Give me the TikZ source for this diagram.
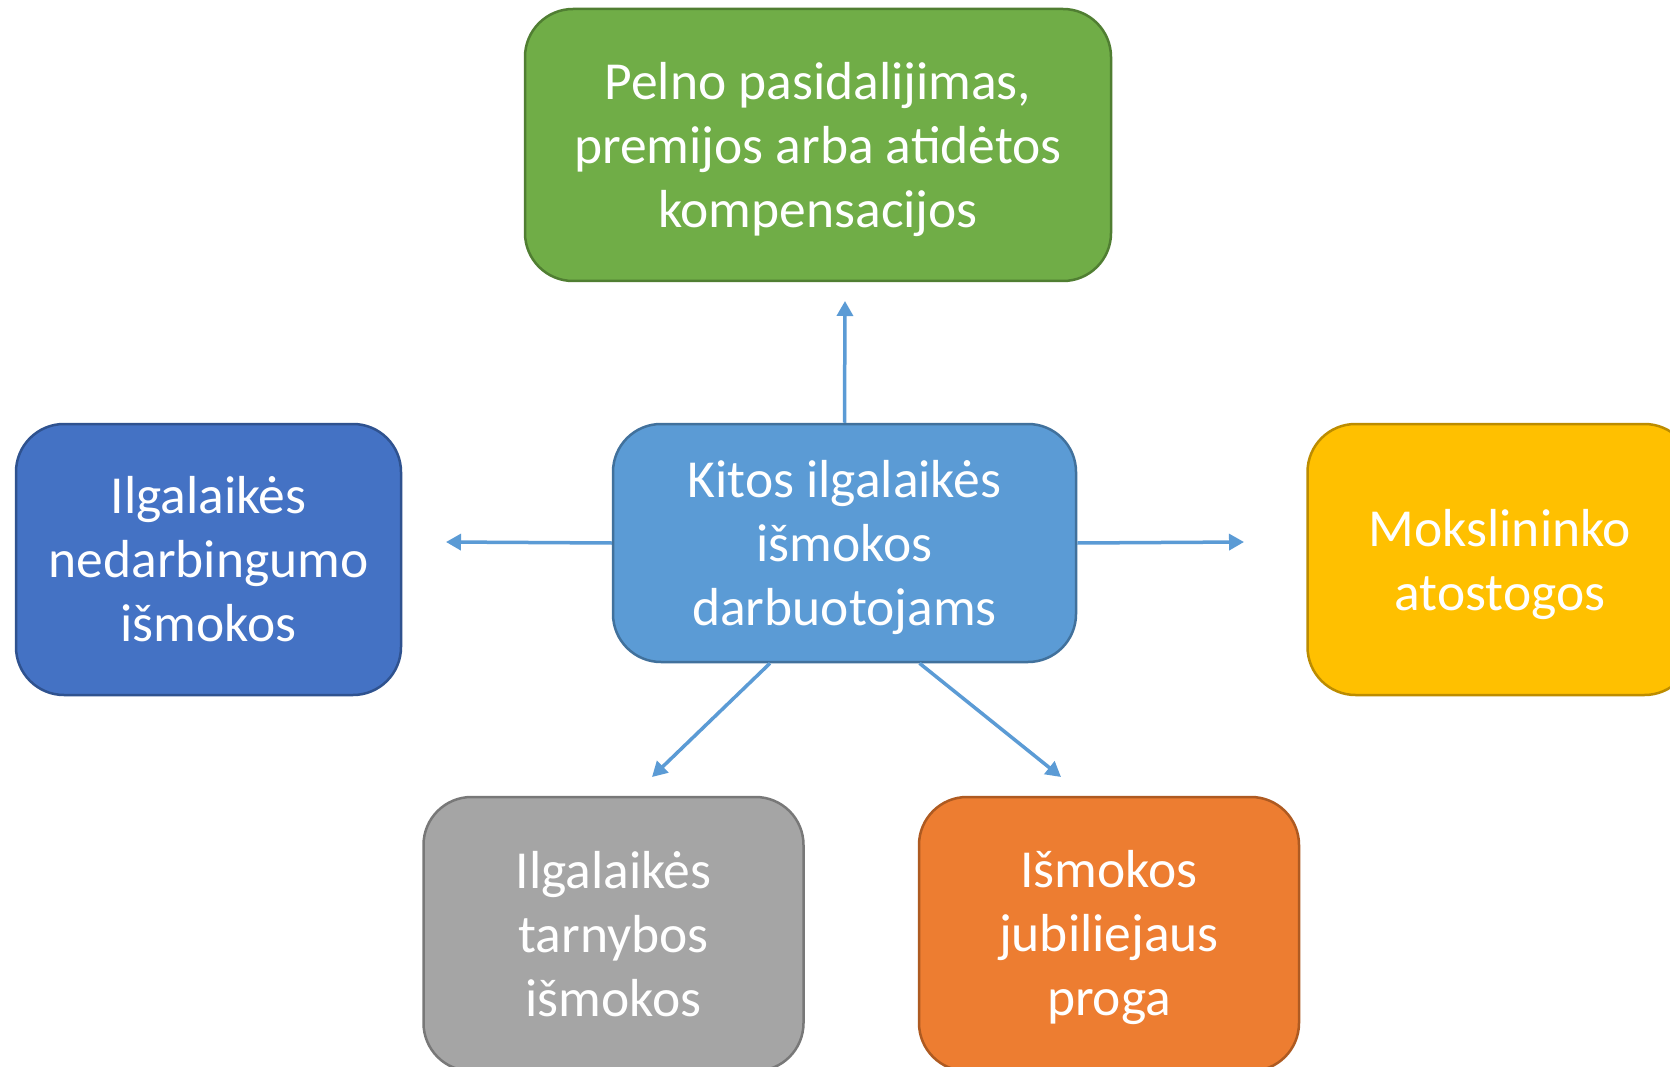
\documentclass[tikz,border=0pt]{standalone}
\usepackage{fontspec}
\setmainfont{Carlito}
\usetikzlibrary{arrows.meta,calc}
\definecolor{cgreen}{HTML}{70AD47}\definecolor{bgreen}{HTML}{507E32}
\definecolor{cmid}{HTML}{5B9BD5}\definecolor{bmid}{HTML}{41719C}
\definecolor{cblue}{HTML}{4472C4}\definecolor{bblue}{HTML}{2F528F}
\definecolor{cyell}{HTML}{FFC000}\definecolor{byell}{HTML}{BC8C00}
\definecolor{cgray}{HTML}{A5A5A5}\definecolor{bgray}{HTML}{787878}
\definecolor{corng}{HTML}{ED7D31}\definecolor{borng}{HTML}{AE5A21}
\begin{document}
\begin{tikzpicture}[x=1pt,y=-1pt,
  box/.style={rectangle,rounded corners=48pt,line width=2.5pt,inner sep=0pt},
  txt/.style 2 args={label={[align=center,text=white,inner sep=0pt,
    font=\fontsize{53.5}{64}\selectfont,yshift=#1]center:#2}},
  arr/.style={draw=cmid,line width=3.5pt,-{Triangle[length=15pt,width=16pt]}}]
\useasboundingbox (0,0) rectangle (1670,1067);
\fill[white] (0,0) rectangle (1670,1067);
\begin{scope}
\clip (0,0) rectangle (1670,1067);
\node[box,fill=cgreen,draw=bgreen,minimum width=586pt,minimum height=272pt,
  txt={-5pt}{Pelno pasidalijimas,\\premijos arba atidėtos\\kompensacijos}] (g) at (818,145) {};
\node[box,fill=cmid,draw=bmid,minimum width=463pt,minimum height=238pt,
  txt={-5pt}{Kitos ilgalaikės\\išmokos\\darbuotojams}] (c) at (844.5,543) {};
\node[box,fill=cblue,draw=bblue,minimum width=385pt,minimum height=271pt,
  txt={0pt}{Ilgalaikės\\nedarbingumo\\išmokos}] (l) at (208.5,559.5) {};
\node[box,fill=cyell,draw=byell,minimum width=385pt,minimum height=271pt,
  txt={-5pt}{Mokslininko\\atostogos}] (r) at (1500,559.5) {};
\node[box,fill=cgray,draw=bgray,minimum width=380pt,minimum height=274pt,
  txt={0pt}{Ilgalaikės\\tarnybos\\išmokos}] (dl) at (613.5,934) {};
\node[box,fill=corng,draw=borng,minimum width=380pt,minimum height=274pt,
  txt={-4pt}{Išmokos\\jubiliejaus\\proga}] (dr) at (1109,934) {};
\end{scope}
\coordinate (tu) at (845,301);
\coordinate (tl) at (446,542);
\coordinate (tr) at (1244,542);
\coordinate (tdl) at (652,777);
\coordinate (tdr) at (1061,777);
\draw[arr] (c.north) -- (tu);
\draw[arr] (c.west) -- (tl);
\draw[arr] (c.east) -- (tr);
\draw[arr] ($(c.south)+(-74.5,0)$) -- (tdl);
\draw[arr] ($(c.south)+(75,0)$) -- (tdr);
\end{tikzpicture}
\end{document}
